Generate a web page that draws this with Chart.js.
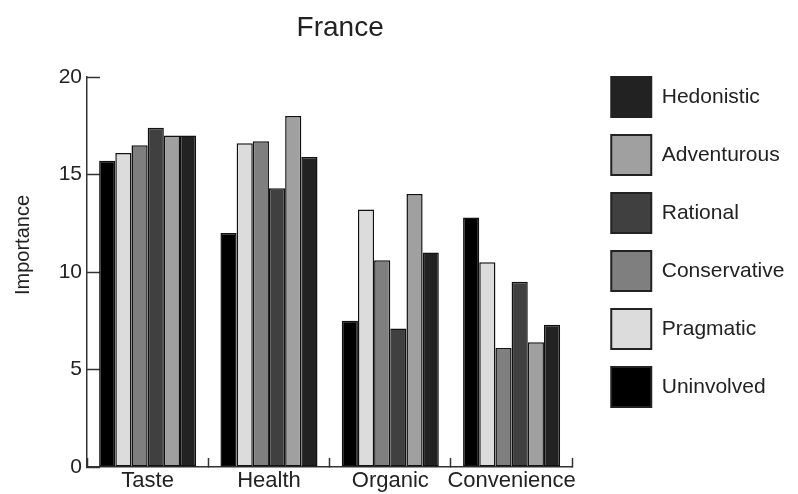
<!DOCTYPE html>
<html><head><meta charset="utf-8">
<script src="https://cdn.jsdelivr.net/npm/chart.js@4.4.1/dist/chart.umd.min.js"></script>
<style>html,body{margin:0;padding:0;background:#fff}#wrap{width:798px;height:494px}</style>
</head><body><div id="wrap"><canvas id="c" width="798" height="494"></canvas></div>
<script>
// ---- data ----
const categories = ['Taste', 'Health', 'Organic', 'Convenience'];
const uninvolved   = [15.7, 12.0, 7.5, 12.8];
const pragmatic    = [16.1, 16.6, 13.2, 10.5];
const conservative = [16.5, 16.7, 10.6, 6.1];
const rational     = [17.4, 14.3, 7.1, 9.5];
const adventurous  = [17.0, 18.0, 14.0, 6.4];
const hedonistic   = [17.0, 15.9, 11.0, 7.3];
const yTicks = [0, 5, 10, 15, 20];
const chartTitle = 'France';
const yTitle = 'Importance';

const FONT = "'Liberation Sans', Arial, Helvetica, sans-serif";
const TXT = '#222';
const LINE = '#333';

function ds(label, data, color) {
  return { label, data, backgroundColor: color, borderColor: '#111', borderWidth: 1.5, borderSkipped: false,
           categoryPercentage: 0.8, barPercentage: 1.0 };
}

// position tweaks for title / legend blocks
const layoutTweak = {
  id: 'layoutTweak',
  afterLayout(chart) {
    const ca = chart.chartArea;
    const t = chart.titleBlock;
    if (t) { t.left = ca.left; t.right = ca.right + 21; }
    const lg = chart.legend;
    if (lg) { const dx = 21, dy = 59; lg.left += dx; lg.right += dx; lg.top += dy; lg.bottom += dy; }
  }
};

// y-axis title, placed slightly above the axis centre as in the original
const yTitlePlugin = {
  id: 'yTitlePlugin',
  afterDraw(chart) {
    const s = chart.scales.y;
    const ctx = chart.ctx;
    ctx.save();
    ctx.translate(s.left + 23, (s.top + s.bottom) / 2 - 27);
    ctx.rotate(-Math.PI / 2);
    ctx.font = '20px ' + FONT;
    ctx.fillStyle = TXT;
    ctx.textAlign = 'center';
    ctx.textBaseline = 'middle';
    ctx.fillText(yTitle, 0, 0);
    ctx.restore();
  }
};

new Chart(document.getElementById('c'), {
  type: 'bar',
  data: {
    labels: categories,
    datasets: [
      ds('Uninvolved', uninvolved, '#000000'),
      ds('Pragmatic', pragmatic, '#dcdcdc'),
      ds('Conservative', conservative, '#7f7f7f'),
      ds('Rational', rational, '#404040'),
      ds('Adventurous', adventurous, '#a0a0a0'),
      ds('Hedonistic', hedonistic, '#222222')
    ]
  },
  plugins: [layoutTweak, yTitlePlugin],
  options: {
    responsive: false,
    animation: false,
    devicePixelRatio: 1,
    layout: { padding: { top: 0, left: 0, right: 35, bottom: 0 } },
    plugins: {
      title: { display: true, text: chartTitle, color: TXT,
               font: { family: FONT, size: 28, weight: 'normal' }, padding: { top: 11, bottom: 32.4 } },
      legend: { position: 'right', align: 'start', reverse: true,
                labels: { boxWidth: 40, boxHeight: 40, padding: 18, color: TXT,
                          font: { family: FONT, size: 21 },
                          generateLabels(chart) {
                            const items = Chart.defaults.plugins.legend.labels.generateLabels(chart);
                            items.forEach(it => { it.lineWidth = 2; it.strokeStyle = '#222'; });
                            return items;
                          } } },
      tooltip: { enabled: false }
    },
    scales: {
      x: {
        grid: { display: true, drawOnChartArea: false, drawTicks: true, tickLength: -9, tickWidth: 1.5,
                tickColor: LINE, offset: true },
        border: { display: true, color: LINE, width: 1.5 },
        ticks: { color: TXT, font: { family: FONT, size: 22 }, padding: 10, maxRotation: 0, autoSkip: false },
        afterFit: s => { s.height = 27; }
      },
      y: {
        min: 0, max: 20,
        afterBuildTicks: s => { s.ticks = yTicks.map(v => ({ value: v })); },
        grid: { display: true, drawOnChartArea: false, drawTicks: true, tickLength: -13, tickWidth: 1.5, tickColor: LINE },
        border: { display: true, color: LINE, width: 1.5 },
        ticks: { color: TXT, font: { family: FONT, size: 21, lineHeight: 0.8 }, padding: 18 },
        afterFit: s => { s.width = 87; }
      }
    }
  }
});
</script>
</body></html>
